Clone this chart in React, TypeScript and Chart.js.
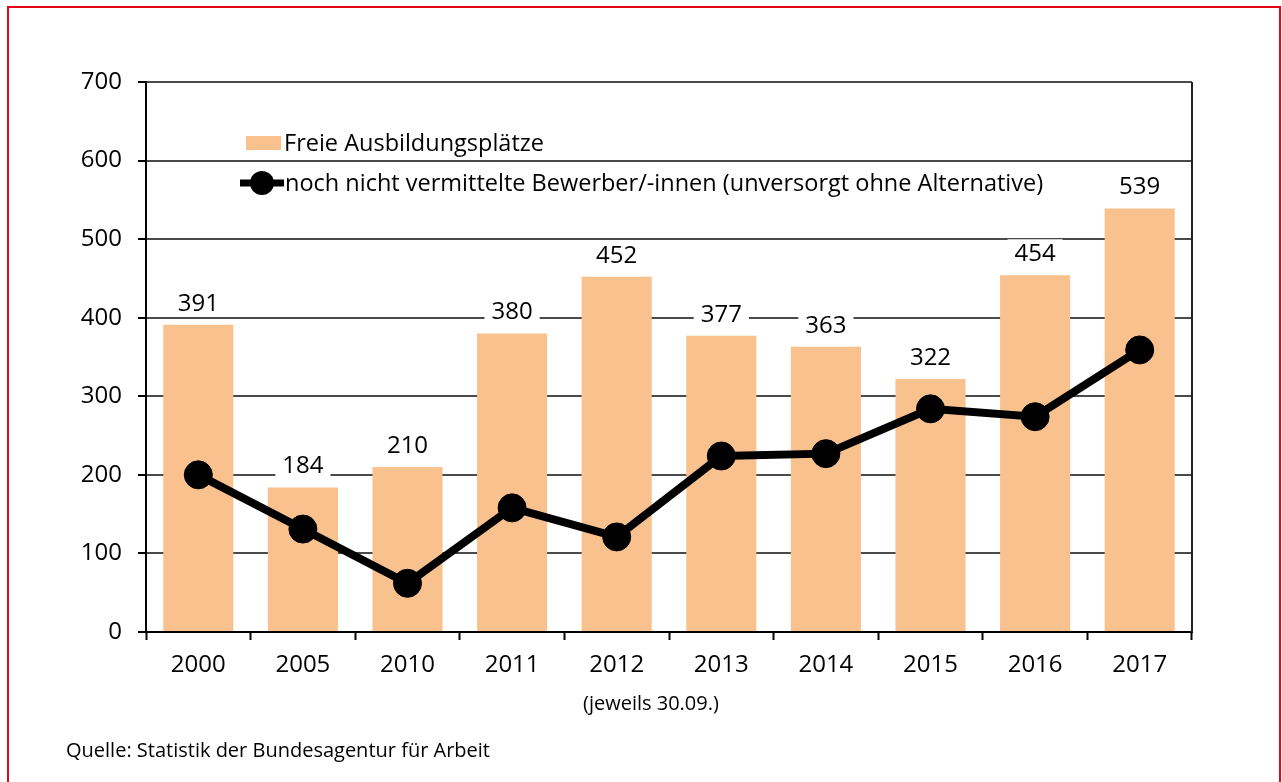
import React, { useEffect, useRef } from "react";
import { Chart, registerables } from "chart.js";

Chart.register(...registerables);

const categories = ["2000", "2005", "2010", "2011", "2012", "2013", "2014", "2015", "2016", "2017"];
const freiePlaetze = [391, 184, 210, 380, 452, 377, 363, 322, 454, 539];
const unversorgt = [200, 131, 62, 158, 121, 224, 227, 284, 274, 359];
const yTicks = [0, 100, 200, 300, 400, 500, 600, 700];

const barLabel = "Freie Ausbildungsplätze";
const lineLabel = "noch nicht vermittelte Bewerber/-innen (unversorgt ohne Alternative)";
const axisNote = "(jeweils 30.09.)";
const sourceNote = "Quelle: Statistik der Bundesagentur für Arbeit";

const FONT = "'Open Sans', 'Noto Sans', sans-serif";
const BAR_COLOR = "#F8C18E";
const GRID_COLOR = "#4a4a4a";

const overlayPlugin = {
  id: "overlay",
  afterDatasetsDraw(chart: any) {
    const { ctx, chartArea } = chart;
    ctx.save();
    // right border of plot
    ctx.strokeStyle = "#222";
    ctx.lineWidth = 2;
    ctx.beginPath();
    ctx.moveTo(chartArea.right, chartArea.top);
    ctx.lineTo(chartArea.right, chartArea.bottom);
    ctx.stroke();

    // data labels with white background
    const barIndex = chart.data.datasets.findIndex((d: any) => d.type === "bar");
    const meta = chart.getDatasetMeta(barIndex);
    ctx.font = `24px ${FONT}`;
    ctx.textAlign = "center";
    ctx.textBaseline = "middle";
    meta.data.forEach((el: any, i: number) => {
      const txt = String(chart.data.datasets[barIndex].data[i]);
      const w = ctx.measureText(txt).width;
      const cy = el.y - 23;
      ctx.fillStyle = "#fff";
      ctx.fillRect(el.x - w / 2 - 7, cy - 13, w + 14, 26);
      ctx.fillStyle = "#000";
      ctx.fillText(txt, el.x, cy + 2);
    });

    // legend inside plot
    const lx = chartArea.left + 100;
    const ly1 = chartArea.top + 61;
    const ly2 = chartArea.top + 101;
    ctx.fillStyle = BAR_COLOR;
    ctx.fillRect(lx, ly1 - 7, 35, 14);
    ctx.strokeStyle = "#000";
    ctx.lineWidth = 7;
    ctx.beginPath();
    ctx.moveTo(lx - 6, ly2);
    ctx.lineTo(lx + 38, ly2);
    ctx.stroke();
    ctx.fillStyle = "#000";
    ctx.beginPath();
    ctx.arc(lx + 16, ly2, 12, 0, Math.PI * 2);
    ctx.fill();
    ctx.font = `23.5px ${FONT}`;
    ctx.textAlign = "left";
    ctx.textBaseline = "middle";
    ctx.fillText(barLabel, lx + 38, ly1 + 1);
    ctx.fillText(lineLabel, lx + 39, ly2 + 1);
    ctx.restore();
  },
};

export default function App() {
  const canvasRef = useRef<HTMLCanvasElement | null>(null);

  useEffect(() => {
    if (!canvasRef.current) return;
    const chart = new Chart(canvasRef.current, {
      type: "bar",
      data: {
        labels: categories,
        datasets: [
          {
            type: "line",
            label: lineLabel,
            data: unversorgt,
            borderColor: "#000",
            backgroundColor: "#000",
            borderWidth: 8,
            pointRadius: 14,
            pointBorderWidth: 1,
            pointBackgroundColor: "#000",
            pointBorderColor: "#000",
            tension: 0,
            order: 0,
          } as any,
          {
            type: "bar",
            label: barLabel,
            data: freiePlaetze,
            backgroundColor: BAR_COLOR,
            borderWidth: 0,
            barPercentage: 0.67,
            categoryPercentage: 1,
            order: 1,
          } as any,
        ],
      },
      options: {
        responsive: false,
        animation: false,
        devicePixelRatio: 1,
        layout: { padding: { left: 0, top: 82, right: 90, bottom: 90 } },
        plugins: { legend: { display: false }, tooltip: { enabled: false } },
        scales: {
          x: {
            offset: true,
            grid: {
              offset: true,
              drawOnChartArea: false,
              drawTicks: true,
              tickLength: 8,
              tickColor: "#000",
              tickWidth: 2,
            },
            border: { color: "#000", width: 2 },
            ticks: { color: "#000", font: { family: FONT, size: 24 }, padding: 11, maxRotation: 0 },
            afterFit(scale: any) {
              scale.height = 60;
            },
          },
          y: {
            min: 0,
            max: 700,
            afterBuildTicks(scale: any) {
              scale.ticks = yTicks.map((v) => ({ value: v }));
            },
            grid: {
              color: GRID_COLOR,
              lineWidth: 2,
              drawTicks: true,
              tickLength: 8,
              tickColor: "#000",
              tickWidth: 2,
            },
            border: { color: "#000", width: 2 },
            ticks: { color: "#000", font: { family: FONT, size: 24 }, padding: 16 },
            afterFit(scale: any) {
              scale.width = 146;
            },
          },
        },
      },
      plugins: [overlayPlugin],
    });
    return () => chart.destroy();
  }, []);

  return (
    <div
      style={{
        position: "fixed",
        left: 0,
        top: 0,
        width: 1282,
        height: 782,
        overflow: "hidden",
        background: "#fff",
        fontFamily: FONT,
      }}
    >
      <div
        style={{
          position: "absolute",
          left: 7,
          top: 6,
          width: 1274,
          height: 820,
          border: "2px solid #E3061B",
          boxSizing: "border-box",
        }}
      />
      <canvas
        ref={canvasRef}
        width={1282}
        height={782}
        style={{ position: "absolute", left: 0, top: 0, width: 1282, height: 782, display: "block" }}
      />
      <div
        style={{
          position: "absolute",
          left: 583,
          top: 691,
          fontSize: 20,
          lineHeight: "24px",
          color: "#000",
          whiteSpace: "nowrap",
        }}
      >
        {axisNote}
      </div>
      <div
        style={{
          position: "absolute",
          left: 66,
          top: 738,
          fontSize: 20,
          lineHeight: "24px",
          color: "#000",
          whiteSpace: "nowrap",
        }}
      >
        {sourceNote}
      </div>
    </div>
  );
}
